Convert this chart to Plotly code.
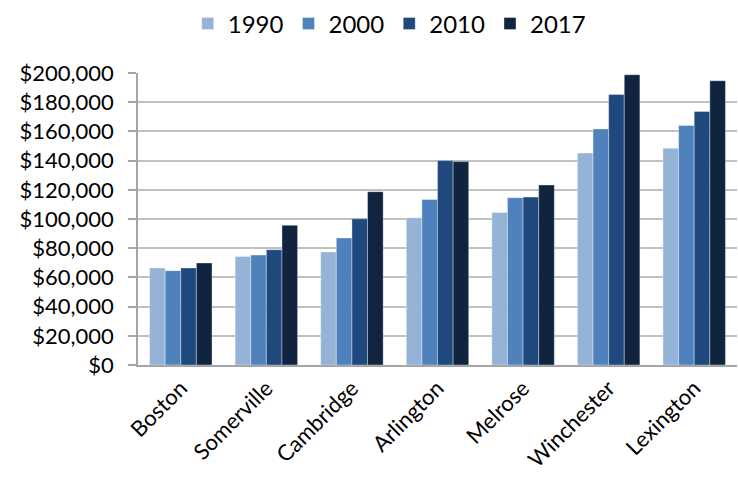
import plotly.graph_objects as go

towns = ["Boston", "Somerville", "Cambridge", "Arlington", "Melrose", "Winchester", "Lexington"]
years = ["1990", "2000", "2010", "2017"]
income_1990 = [66500, 74400, 77400, 100800, 104500, 145200, 148500]
income_2000 = [64600, 75300, 87000, 113400, 114600, 161700, 164000]
income_2010 = [66500, 79000, 100100, 140000, 115000, 185300, 173700]
income_2017 = [69900, 95700, 118700, 139300, 123300, 198800, 194700]
series = [income_1990, income_2000, income_2010, income_2017]
colors = ["#95b3d7", "#4f81bd", "#1f497d", "#10243f"]
y_ticks = list(range(0, 200001, 20000))
y_tick_text = ["$" + format(v, ",") for v in y_ticks]

FONT = "Lato"

fig = go.Figure()
for year, vals, col in zip(years, series, colors):
    fig.add_trace(go.Bar(
        x=towns, y=vals, name=year,
        marker=dict(color=col, line=dict(color="rgba(255,255,255,0.6)", width=0.6)),
    ))

fig.update_layout(
    width=738, height=490,
    margin=dict(l=138, r=1, t=73, b=125, autoexpand=False),
    paper_bgcolor="white", plot_bgcolor="white",
    barmode="group", bargap=0.27, bargroupgap=0,
    font=dict(family=FONT, size=22, color="#000000"),
    legend=dict(
        orientation="h", x=0.083, xanchor="left", y=1.245, yanchor="top",
        font=dict(family=FONT, size=24), itemwidth=30, traceorder="normal",
    ),
    xaxis=dict(
        showline=True, linecolor="#a6a6a6", linewidth=1.5,
        tickangle=-45, ticks="", tickfont=dict(family=FONT, size=22),
    ),
    yaxis=dict(
        range=[0, 200000], tickvals=y_ticks, ticktext=y_tick_text,
        showgrid=True, gridcolor="#c0c0c0", gridwidth=1.6,
        showline=True, linecolor="#a6a6a6", linewidth=1.5,
        ticks="outside", ticklen=8, tickcolor="#a6a6a6", tickwidth=1.5,
        ticklabelstandoff=10,
        tickfont=dict(family=FONT, size=22), zeroline=False,
    ),
)

fig.write_html("out.html")
